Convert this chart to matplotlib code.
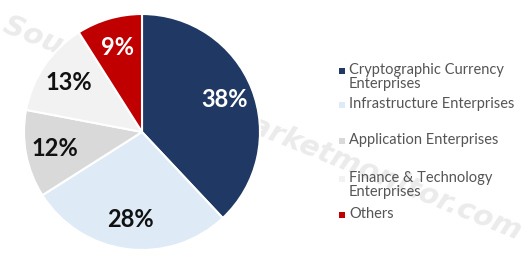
import matplotlib.pyplot as plt
from matplotlib.patches import Rectangle

labels = ['Cryptographic Currency\nEnterprises', 'Infrastructure Enterprises',
          'Application Enterprises', 'Finance & Technology\nEnterprises', 'Others']
shares = [38, 28, 12, 13, 9]
colors = ['#1F3864', '#DEEBF7', '#D9D9D9', '#F2F2F2', '#C00000']
pct_colors = ['white', '#111111', '#111111', '#111111', 'white']

W, H = 525, 256
fig = plt.figure(figsize=(W / 100, H / 100), dpi=100)

# faint watermark behind everything
fig.text(0.5, 0.5, 'Source: globalmarketmonitor.com', fontsize=21, fontweight='bold',
         fontstyle='italic', color='#EBEBEB', rotation=-22, ha='center', va='center',
         family='DejaVu Sans', zorder=0)

ax = fig.add_axes([24 / W, 6 / H, 236 / W, 236 / H])
ax.set_zorder(1)
ax.patch.set_visible(False)
wedges, texts, autotexts = ax.pie(shares, colors=colors, startangle=90, counterclock=False,
                                  autopct='%d%%', pctdistance=0.75, radius=1,
                                  wedgeprops=dict(edgecolor='white', linewidth=1.5))
for t, c in zip(autotexts, pct_colors):
    t.set_color(c)
    t.set_fontsize(17)
    t.set_fontweight('bold')
    t.set_family('Lato')
ax.set_xlim(-1, 1)
ax.set_ylim(-1, 1)
ax.set_aspect('equal')

# legend, placed by hand to mimic the uneven spacing
leg_y = [71, 105, 141, 179, 215]
for lab, col, y in zip(labels, colors, leg_y):
    fig.add_artist(Rectangle((339 / W, 1 - (y + 3) / H), 6 / W, 6 / H,
                             transform=fig.transFigure, facecolor=col, edgecolor='none'))
    fig.text(349 / W, 1 - (y - 8) / H, lab, fontsize=10.5, color='#555555', va='top',
             ha='left', family='Lato', linespacing=1.0)

fig.savefig('out.png', dpi=100)
